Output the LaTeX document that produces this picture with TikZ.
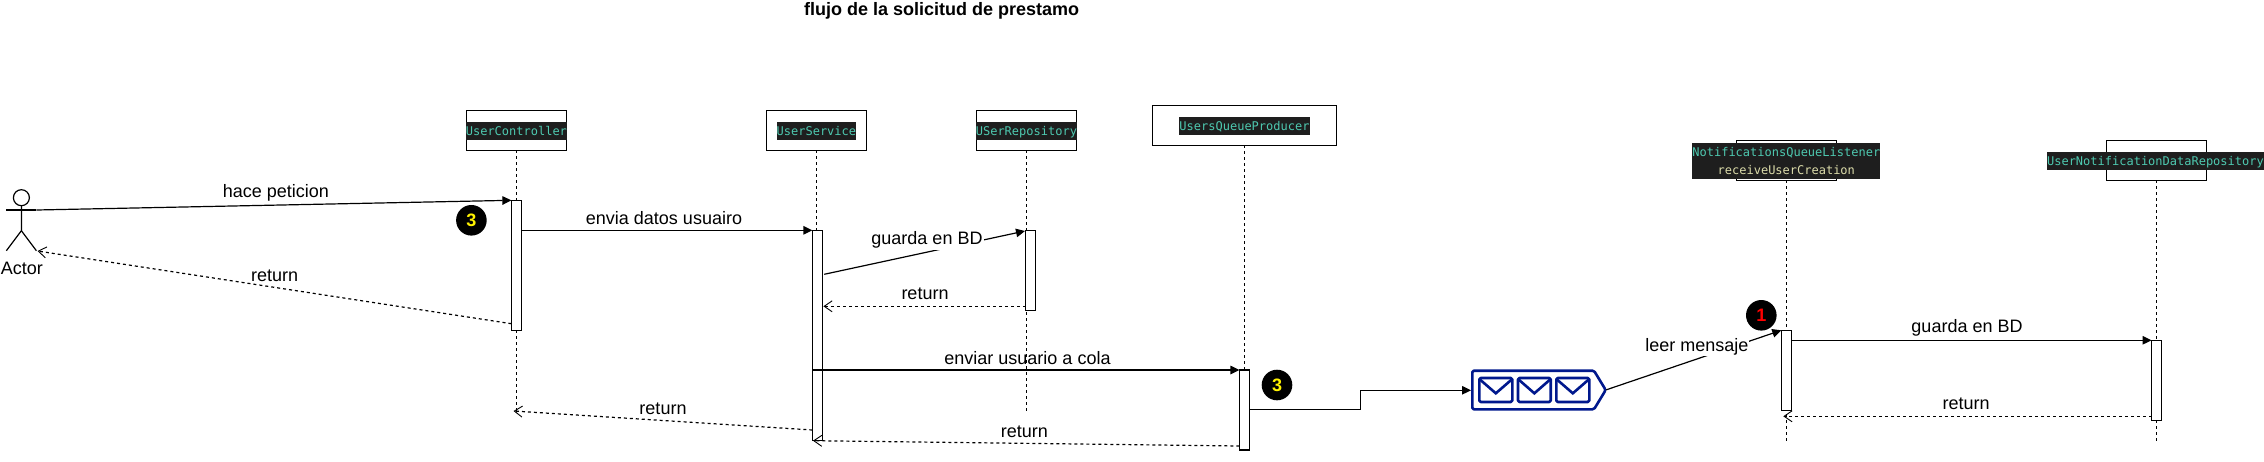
\documentclass[tikz,border=0pt]{standalone}
\usepackage{fontspec}
\setmainfont{Liberation Sans}
\setmonofont{DejaVu Sans Mono}
\usetikzlibrary{arrows.meta}
\definecolor{codebg}{RGB}{30,30,30}
\definecolor{codeteal}{RGB}{78,201,176}
\definecolor{codeyellow}{RGB}{220,220,170}
\definecolor{queueblue}{RGB}{0,24,141}
\tikzset{
  x=1pt,y=-1pt,
  base/.style={line width=1.2pt,black},
  headbox/.style={draw,base,fill=white,minimum width=100pt,minimum height=40pt,inner sep=0pt,outer sep=0pt},
  headwide/.style={headbox,minimum width=184.3pt},
  codelabel/.style={fill=codebg,text=codeteal,font=\ttfamily\fontsize{12}{18}\selectfont,inner xsep=0pt,inner ysep=0pt,text height=13pt,text depth=5pt},
  act/.style={draw,base,fill=white,minimum width=10.2pt,inner sep=0pt,outer sep=0pt,anchor=north west},
  life/.style={base,dash pattern=on 3pt off 3pt},
  msg/.style={base,-{Triangle[length=9pt,width=8.5pt]}},
  ret/.style={base,dash pattern=on 3pt off 3pt,-{Straight Barb[length=8pt,width=11pt,line width=0.9pt]}},
  txt/.style={font=\fontsize{18}{20}\selectfont,inner sep=1pt},
  onwhite/.style={txt,fill=white},
  badge/.style={circle,fill=black,minimum size=30.6pt,inner sep=0pt,font=\bfseries\fontsize{18}{20}\selectfont},
  qline/.style={draw=queueblue,line width=2.6pt,line join=round,rounded corners=1.5pt},
}
\begin{document}
\begin{tikzpicture}
\useasboundingbox (0,0) rectangle (2264,461);
% title
\node[txt,font=\bfseries\fontsize{18}{20}\selectfont] (title) at (941.7,11) {flujo de la solicitud de prestamo};

% headers
\node[headbox] (hCtl) at (516.4,130.3) {};
\node[headbox] (hSvc) at (816.4,130.3) {};
\node[headbox] (hRep) at (1026.4,130.3) {};
\node[headwide] (hPro) at (1244.5,125.3) {};
\node[headbox] (hLis) at (1786.3,160.3) {};
\node[headbox] (hNot) at (2156.5,160.3) {};

% lifeline ends
\coordinate (eCtl) at (516.4,411);
\coordinate (eSvc) at (816.4,440);
\coordinate (eRep) at (1026.4,411);
\coordinate (ePro) at (1244.5,450);
\coordinate (eLis) at (1786.3,441);
\coordinate (eNot) at (2156.5,441);
\draw[life] (hCtl) -- (eCtl);
\draw[life] (hSvc) -- (eSvc);
\draw[life] (hRep) -- (eRep);
\draw[life] (hPro) -- (ePro);
\draw[life] (hLis) -- (eLis);
\draw[life] (hNot) -- (eNot);

% header labels
\node[codelabel] (lCtl) at (516.4,131) {UserController};
\node[codelabel] (lSvc) at (816.4,131) {UserService};
\node[codelabel] (lRep) at (1026.4,131) {USerRepository};
\node[codelabel] (lPro) at (1244.5,126) {UsersQueueProducer};
\node[fill=codebg,inner sep=0pt,minimum width=188pt,minimum height=36pt] (lLisBg) at (1786.3,161) {};
\node[codelabel,fill=none] (lLis) at (1786.3,152) {NotificationsQueueListener};
\node[codelabel,fill=none,text=codeyellow] (lLis2) at (1786.3,170) {receiveUserCreation};
\node[codelabel,anchor=east] (lNot) at (2264,161) {UserNotificationDataRepository};

% activations
\node[act,minimum height=130pt] (aCtl) at (511.4,200.3) {};
\node[act,minimum height=210.4pt] (aSvc) at (812.4,230.3) {};
\node[act,minimum height=80pt] (aRep) at (1025.5,230.3) {};
\node[act,minimum height=80pt] (aPro) at (1239.4,370) {};
\node[act,minimum height=80pt] (aLis) at (1781.3,330.3) {};
\node[act,minimum height=80pt] (aNot) at (2151.5,340.3) {};

% actor
\draw[base] (21.4,197.7) circle[radius=8] coordinate (head);
\draw[base] (21.4,205.7) -- (21.4,230.7) -- (6.4,250.7);
\draw[base] (21.4,230.7) -- (36.4,250.7);
\draw[base] (6.4,210) -- (36.4,210);
\coordinate (actHand) at (36.4,210);
\coordinate (actFoot) at (37.5,251);
\node[txt] (lActor) at (21.8,268) {Actor};

% free ends of messages
\coordinate (rA1) at (511.4,323.7);
\coordinate (gS) at (824.2,274.3);
\coordinate (gR) at (1025,231);
\coordinate (rR) at (1025.5,306.3);
\coordinate (rS) at (823.4,306.3);
\coordinate (sEnv) at (812.4,370);
\coordinate (rP) at (1239.4,446);
\coordinate (rS2) at (813,440.7);
\coordinate (rS3) at (812.4,430);
\coordinate (rC) at (513.5,411);
\coordinate (elbS) at (1249.6,409.7);
\coordinate (qIn) at (1471,390.3);
\coordinate (qOut) at (1605.7,390);
\coordinate (rN) at (2151.5,416.3);
\coordinate (rL) at (1783.3,416.3);

% messages
\draw[msg] (actHand) -- (aCtl.north west);
\draw[ret] (rA1) -- (actFoot);
\draw[msg] (aCtl.east |- aSvc.north west) -- (aSvc.north west);
\draw[msg] (gS) -- (gR);
\draw[ret] (rR) -- (rS);
\draw[msg] (sEnv) -- (aPro.north west);
\draw[ret] (rP) -- (rS2);
\draw[ret] (rS3) -- (rC);
\draw[msg] (elbS) -- (1360.4,409.7) -- (1360.4,390.3) -- (qIn);
\draw[msg] (qOut) -- (aLis.north west);
\draw[msg] (aLis.east |- aNot.north west) -- (aNot.north west);
\draw[ret] (rN) -- (rL);

% queue icon
\draw[qline] (1472.3,370.7) -- (1594,370.7) -- (1605.7,390) -- (1594,409.3) -- (1472.3,409.3) -- cycle;
\foreach \xa/\xb in {1479.3/1512.3,1518/1550.7,1556.3/1589.3}{
  \draw[qline] (\xa,378) rectangle (\xb,402);
  \draw[draw=queueblue,line width=2.6pt] (\xa,379) -- ({(\xa+\xb)/2},393.3) -- (\xb,379);
}

% message labels
\node[txt] (m1) at (276,192.7) {hace peticion};
\node[onwhite] (m2) at (274.6,275.3) {return};
\node[txt] (m3) at (664,218) {envia datos usuairo};
\node[onwhite] (m4) at (927,240.3) {guarda en BD};
\node[txt] (m5) at (925,294) {return};
\node[txt] (m6) at (1027.5,358) {enviar usuario a cola};
\node[onwhite] (m7) at (663,408.6) {return};
\node[txt] (m8) at (1024.3,431.3) {return};
\node[onwhite] (m9) at (1696.8,346.7) {leer mensaje};
\node[txt] (m10) at (1967,328) {guarda en BD};
\node[txt] (m11) at (1966.2,404) {return};

% badges
\node[badge,text=yellow] (b1) at (471.4,220.3) {3};
\node[badge,text=yellow] (b2) at (1277,385) {3};
\node[badge,text=red] (b3) at (1761.3,315.3) {1};
\end{tikzpicture}
\end{document}
